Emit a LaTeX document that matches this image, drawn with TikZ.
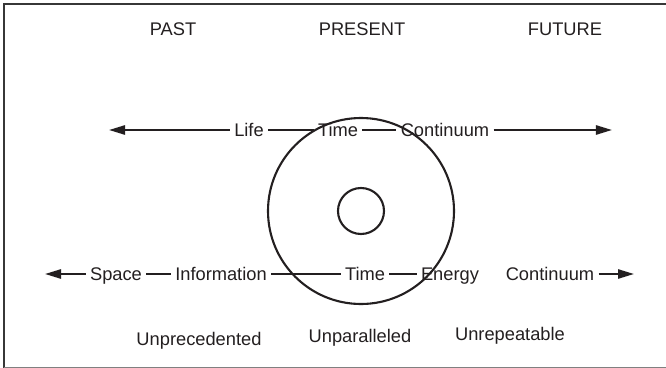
\documentclass[tikz,border=0pt]{standalone}
\usepackage{fontspec}
\setmainfont{Liberation Sans}
\usetikzlibrary{positioning}
\usetikzlibrary{arrows.meta}
\definecolor{inkcolor}{RGB}{35,31,32}
\definecolor{framecolor}{RGB}{55,55,55}

\begin{document}
\begin{tikzpicture}[
    x=0.025cm, y=-0.025cm,
    word/.style={inner xsep=3pt, inner ysep=0pt, text height=9.5pt, text depth=0pt, font=\fontsize{13}{15}\selectfont, text=inkcolor},
    heading/.style={inner sep=0pt, font=\fontsize{13}{15}\selectfont, text=inkcolor},
    link/.style={draw=inkcolor, line width=1.4pt},
    arrow/.style={link, -{Triangle[length=4mm, width=2.3mm]}},
    ring/.style={draw=inkcolor, line width=1.5pt}
]
\useasboundingbox (0,0) rectangle (666,368);

% Frame
\draw[framecolor, line width=1.8pt] (4,368) -- (4,4) -- (666,4);
\draw[gray, line width=0.7pt] (4,367) -- (666,367);

% Headings
\node[heading] (past) at (173,29) {PAST};
\node[heading] (present) at (362,29) {PRESENT};
\node[heading] (future) at (565,29) {FUTURE};

% Circles
\coordinate (centre) at (361,211);
\draw[ring] (centre) circle[radius=93];
\draw[ring] (centre) circle[radius=23];

% Upper continuum
\node[word] (life) at (249,130) {Life};
\node[word] (time1) at (338,130) {Time};
\node[word] (cont1) at (445,130) {Continuum};
\coordinate (tipl1) at (109,130);
\coordinate (tipr1) at (612,130);

\draw[arrow] (life) -- (tipl1);
\draw[link] (life) -- (time1);
\draw[link] (time1) -- (cont1);
\draw[arrow] (cont1) -- (tipr1);

% Lower continuum
\node[word] (space) at (116,274) {Space};
\node[word] (info) at (221,274) {Information};
\node[word] (time2) at (365,274) {Time};
\node[word] (energy) at (450,274) {Energy};
\node[word] (cont2) at (550,274) {Continuum};
\coordinate (tipl2) at (45,274);
\coordinate (tipr2) at (634,274);

\draw[arrow] (space) -- (tipl2);
\draw[link] (space) -- (info);
\draw[link] (info) -- (time2);
\draw[link] (time2) -- (energy);
\draw[arrow] (cont2) -- (tipr2);

% Qualities
\node[heading] (unprec) at (199,341) {Unprecedented};
\node[heading] (unpar) at (360,338) {Unparalleled};
\node[heading] (unrep) at (510,336) {Unrepeatable};

\end{tikzpicture}
\end{document}
